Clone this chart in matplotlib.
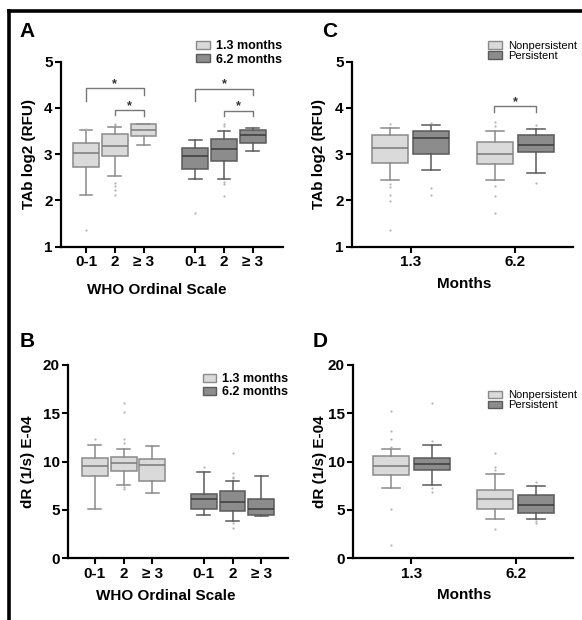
import numpy as np
import matplotlib
matplotlib.use('Agg')
import matplotlib.pyplot as plt
from matplotlib.patches import Patch
from matplotlib.lines import Line2D

plt.rcParams['font.family'] = ['Liberation Sans', 'DejaVu Sans']
plt.rcParams['font.weight'] = 'bold'
plt.rcParams['axes.labelweight'] = 'bold'

# ---- data ----
who_labels = ['0-1', '2', '\u2265 3']
month_labels = ['1.3', '6.2']

# panel A: TAb log2 (RFU) by WHO scale
A13_whislo = [2.12, 2.52, 3.19]
A13_q1 = [2.72, 2.95, 3.39]
A13_med = [3.02, 3.18, 3.52]
A13_q3 = [3.24, 3.43, 3.65]
A13_whishi = [3.51, 3.59, 3.66]
A13_fliers = [[1.37, 3.55], [3.63, 3.66, 2.38, 2.31, 2.22, 2.12], []]

A62_whislo = [2.47, 2.47, 3.06]
A62_q1 = [2.67, 2.85, 3.24]
A62_med = [2.96, 3.12, 3.42]
A62_q3 = [3.14, 3.33, 3.53]
A62_whishi = [3.30, 3.50, 3.57]
A62_fliers = [[1.73], [3.66, 3.60, 2.40, 2.35, 2.09], []]

# panel B: dR (1/s) E-04 by WHO scale
B13_whislo = [5.07, 7.62, 6.79]
B13_q1 = [8.52, 9.00, 8.00]
B13_med = [9.55, 9.86, 9.69]
B13_q3 = [10.41, 10.52, 10.31]
B13_whishi = [11.69, 11.34, 11.62]
B13_fliers = [[12.3], [16.03, 15.14, 12.38, 11.97, 7.38, 7.20], []]

B62_whislo = [4.45, 3.90, 4.38]
B62_q1 = [5.07, 4.90, 4.45]
B62_med = [6.17, 5.86, 5.14]
B62_q3 = [6.66, 6.93, 6.14]
B62_whishi = [8.93, 7.97, 8.52]
B62_fliers = [[9.45], [10.93, 8.86, 8.45, 8.34, 3.70, 3.10], []]

# panel C: TAb log2 (RFU) by months (nonpersistent / persistent)
Cnp_whislo = [2.45, 2.45]
Cnp_q1 = [2.81, 2.78]
Cnp_med = [3.13, 3.00]
Cnp_q3 = [3.42, 3.27]
Cnp_whishi = [3.57, 3.50]
Cnp_fliers = [[3.66, 2.35, 2.29, 2.12, 1.99, 1.37], [3.69, 3.60, 2.32, 2.09, 1.73]]

Cp_whislo = [2.65, 2.60]
Cp_q1 = [3.01, 3.05]
Cp_med = [3.35, 3.19]
Cp_q3 = [3.50, 3.42]
Cp_whishi = [3.63, 3.55]
Cp_fliers = [[3.68, 2.27, 2.12], [3.63, 2.38]]

# panel D: dR (1/s) E-04 by months
Dnp_whislo = [7.31, 4.10]
Dnp_q1 = [8.62, 5.07]
Dnp_med = [9.55, 6.10]
Dnp_q3 = [10.59, 7.07]
Dnp_whishi = [11.34, 8.69]
Dnp_fliers = [[15.24, 13.2, 12.3, 11.55, 5.14, 1.38], [10.93, 9.48, 9.10, 3.07]]

Dp_whislo = [7.55, 4.10]
Dp_q1 = [9.14, 4.72]
Dp_med = [9.72, 5.48]
Dp_q3 = [10.41, 6.52]
Dp_whishi = [11.69, 7.48]
Dp_fliers = [[16.1, 12.14, 7.31, 6.86], [7.9, 3.86, 3.69]]

# significance brackets: (x1, x2, top, left leg end, right leg end)
A_brackets = [(1, 3, 4.42, 4.14, 4.27), (2, 3, 3.95, 3.84, 3.82),
              (4.8, 6.8, 4.41, 4.14, 4.27), (5.8, 6.8, 3.94, 3.82, 3.82)]
C_brackets = [(1.8, 2.2, 4.04, 3.90, 3.90)]

light_fc, light_ec, light_med = '#dadada', '#8a8a8a', '#7a7a7a'
dark_fc, dark_ec, dark_med = '#8c8c8c', '#5a5a5a', '#3c3c3c'


def make_stats(lo, q1, med, q3, hi, fl):
    return [dict(whislo=a, q1=b, med=c, q3=d, whishi=e, fliers=f)
            for a, b, c, d, e, f in zip(lo, q1, med, q3, hi, fl)]


def draw(ax, stats, pos, w, fc, ec, mc):
    ax.bxp(stats, positions=pos, widths=w, patch_artist=True, manage_ticks=False,
           boxprops=dict(facecolor=fc, edgecolor=ec, linewidth=1.1),
           medianprops=dict(color=mc, linewidth=1.1),
           whiskerprops=dict(color=ec, linewidth=1.1),
           capprops=dict(color=ec, linewidth=1.1),
           flierprops=dict(marker='o', markersize=1.6, markerfacecolor='#b5b5b5',
                           markeredgecolor='none'))


def style(ax):
    for s in ['top', 'right']:
        ax.spines[s].set_visible(False)
    for s in ['left', 'bottom']:
        ax.spines[s].set_linewidth(1.6)
    ax.tick_params(direction='out', length=4, width=1.5, labelsize=11, pad=2)
    for lab in ax.get_yticklabels():
        lab.set_fontweight('bold')


def brackets(ax, items, star_dy):
    for x1, x2, top, yl, yr in items:
        ax.plot([x1, x1, x2, x2], [yl, top, top, yr], color='#777777', lw=1)
        ax.annotate('*', ((x1 + x2) / 2, top + star_dy), xytext=(0, -5.3),
                    textcoords='offset points', ha='center', va='baseline',
                    fontsize=9, color='#333333')


fig = plt.figure(figsize=(5.82, 6.2), dpi=100)
axA = fig.add_axes([0.1048, 0.6021, 0.3814, 0.2987])
axC = fig.add_axes([0.6048, 0.6021, 0.3797, 0.2987])
axB = fig.add_axes([0.1168, 0.0995, 0.3780, 0.3118])
axD = fig.add_axes([0.6065, 0.0995, 0.3780, 0.3118])

g1 = [1, 2, 3]
g2 = [4.8, 5.8, 6.8]
mpos = np.array([1, 2])

# A
draw(axA, make_stats(A13_whislo, A13_q1, A13_med, A13_q3, A13_whishi, A13_fliers), g1, 0.9,
     light_fc, light_ec, light_med)
draw(axA, make_stats(A62_whislo, A62_q1, A62_med, A62_q3, A62_whishi, A62_fliers), g2, 0.9,
     dark_fc, dark_ec, dark_med)
brackets(axA, A_brackets, 0.19)
axA.set_xlim(0.13, 7.85)
axA.set_ylim(1, 5)
axA.set_yticks([1, 2, 3, 4, 5])
axA.set_xticks(g1 + g2)
axA.set_xticklabels(who_labels * 2, fontweight='bold')
axA.set_ylabel('TAb log2 (RFU)', fontsize=11, fontweight='bold')
axA.yaxis.set_label_coords(-0.112, 0.5)
axA.set_xlabel('WHO Ordinal Scale', fontsize=11, fontweight='bold')
axA.xaxis.set_label_coords(0.431, -0.196)
style(axA)

# B
g2b = [4.79, 5.79, 6.79]
draw(axB, make_stats(B13_whislo, B13_q1, B13_med, B13_q3, B13_whishi, B13_fliers), g1, 0.9,
     light_fc, light_ec, light_med)
draw(axB, make_stats(B62_whislo, B62_q1, B62_med, B62_q3, B62_whishi, B62_fliers), g2b, 0.9,
     dark_fc, dark_ec, dark_med)
axB.set_xlim(0.066, 7.72)
axB.set_ylim(0, 20)
axB.set_yticks([0, 5, 10, 15, 20])
axB.set_xticks(g1 + g2b)
axB.set_xticklabels(who_labels * 2, fontweight='bold')
axB.set_ylabel('dR (1/s) E-04', fontsize=11, fontweight='bold')
axB.yaxis.set_label_coords(-0.148, 0.5)
axB.set_xlabel('WHO Ordinal Scale', fontsize=11, fontweight='bold')
axB.xaxis.set_label_coords(0.445, -0.159)
style(axB)

# C
draw(axC, make_stats(Cnp_whislo, Cnp_q1, Cnp_med, Cnp_q3, Cnp_whishi, Cnp_fliers), mpos - 0.196, 0.35,
     light_fc, light_ec, light_med)
draw(axC, make_stats(Cp_whislo, Cp_q1, Cp_med, Cp_q3, Cp_whishi, Cp_fliers), mpos + 0.196, 0.35,
     dark_fc, dark_ec, dark_med)
brackets(axC, C_brackets, 0.18)
axC.set_xlim(0.44, 2.55)
axC.set_ylim(1, 5)
axC.set_yticks([1, 2, 3, 4, 5])
axC.set_xticks(mpos)
axC.set_xticklabels(month_labels, fontweight='bold')
axC.set_ylabel('TAb log2 (RFU)', fontsize=11, fontweight='bold')
axC.yaxis.set_label_coords(-0.116, 0.5)
axC.set_xlabel('Months', fontsize=11, fontweight='bold')
axC.xaxis.set_label_coords(0.507, -0.163)
style(axC)

# D
draw(axD, make_stats(Dnp_whislo, Dnp_q1, Dnp_med, Dnp_q3, Dnp_whishi, Dnp_fliers), mpos - 0.196, 0.35,
     light_fc, light_ec, light_med)
draw(axD, make_stats(Dp_whislo, Dp_q1, Dp_med, Dp_q3, Dp_whishi, Dp_fliers), mpos + 0.196, 0.35,
     dark_fc, dark_ec, dark_med)
axD.set_xlim(0.44, 2.55)
axD.set_ylim(0, 20)
axD.set_yticks([0, 5, 10, 15, 20])
axD.set_xticks(mpos)
axD.set_xticklabels(month_labels, fontweight='bold')
axD.set_ylabel('dR (1/s) E-04', fontsize=11, fontweight='bold')
axD.yaxis.set_label_coords(-0.118, 0.5)
axD.set_xlabel('Months', fontsize=11, fontweight='bold')
axD.xaxis.set_label_coords(0.505, -0.154)
style(axD)

# legends
month_handles = [Patch(facecolor=light_fc, edgecolor=light_ec, label='1.3 months'),
                 Patch(facecolor=dark_fc, edgecolor=dark_ec, label='6.2 months')]
pers_handles = [Patch(facecolor=light_fc, edgecolor=light_ec, label='Nonpersistent'),
                Patch(facecolor=dark_fc, edgecolor=dark_ec, label='Persistent')]
leg_kw = dict(loc='upper right', bbox_transform=fig.transFigure, frameon=False,
              borderpad=0, borderaxespad=0, handletextpad=0.5)
axA.legend(handles=month_handles, bbox_to_anchor=(0.4845, 0.935), prop=dict(size=9, weight='bold'),
           handlelength=1.05, handleheight=0.55, labelspacing=0.1, **leg_kw)
axB.legend(handles=month_handles, bbox_to_anchor=(0.495, 0.398), prop=dict(size=9, weight='bold'),
           handlelength=1.05, handleheight=0.55, labelspacing=0.1, **leg_kw)
axC.legend(handles=pers_handles, bbox_to_anchor=(0.991, 0.934), prop=dict(size=8, weight='normal'),
           handlelength=1.25, handleheight=0.6, labelspacing=0.0, **leg_kw)
axD.legend(handles=pers_handles, bbox_to_anchor=(0.991, 0.371), prop=dict(size=8, weight='normal'),
           handlelength=1.25, handleheight=0.6, labelspacing=0.0, **leg_kw)

# panel letters
fig.text(0.034, 0.9408, 'A', fontsize=15, va='baseline')
fig.text(0.553, 0.9408, 'C', fontsize=15, va='baseline')
fig.text(0.034, 0.4408, 'B', fontsize=15, va='baseline')
fig.text(0.538, 0.4408, 'D', fontsize=15, va='baseline')

# frame lines (top and left)
fig.add_artist(Line2D([0.015, 1.0], [0.9815, 0.9815], transform=fig.transFigure,
                      color='black', lw=2.6))
fig.add_artist(Line2D([0.015, 0.015], [0.0, 0.9815], transform=fig.transFigure,
                      color='black', lw=2.6))

fig.savefig('out.png', dpi=100)
